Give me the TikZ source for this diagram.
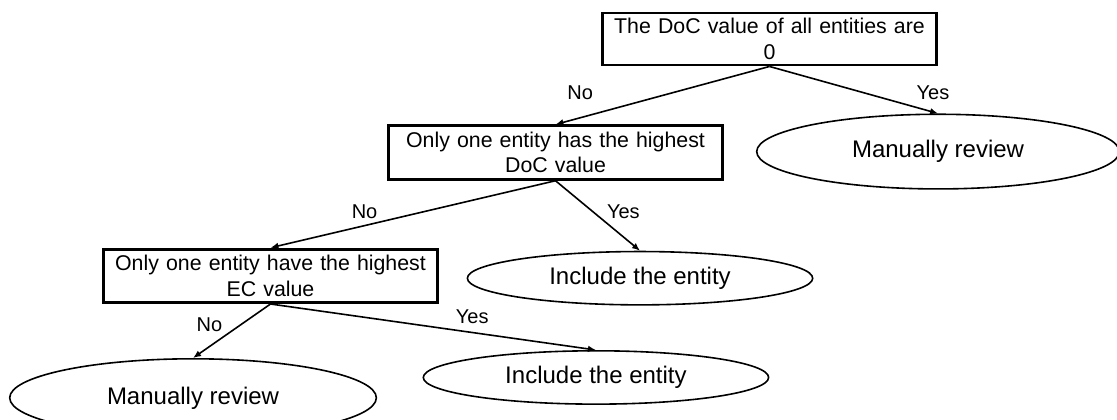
\documentclass[tikz,border=0pt]{standalone}
\usepackage{fontspec}
\setmainfont{Liberation Sans}
\usepackage{tikz}
\usetikzlibrary{arrows.meta, positioning, shapes.geometric}

\begin{document}
\begin{tikzpicture}[
  x=0.75pt, y=-0.75pt,
  block/.style = {draw, line width=2.2pt, text width=240pt, minimum height=40pt, inner xsep=5pt, inner ysep=2pt, align=center, font=\fontsize{16}{19}\selectfont},
  leaf/.style = {draw, ellipse, line width=1.2pt, inner sep=0pt, font=\fontsize{18}{21}\selectfont},
  arrow/.style = {line width=1.2pt, -{Latex[length=6pt, width=5pt]}},
  lbl/.style = {inner sep=0pt, font=\fontsize{15}{17}\selectfont}
]
  \useasboundingbox (0,0) rectangle (1117,420);

  % Root question
  \node[block, minimum height=39pt] (doc_zero) at (769.5,39) {The DoC value of all entities are\\0};

  % Second level
  \node[block, below=43.5pt of doc_zero, xshift=-160.5pt] (doc_high) {Only one entity has the highest\\DoC value};
  \node[leaf, minimum width=272pt, minimum height=56pt, below=35.25pt of doc_zero, xshift=126.4pt] (review_a) {Manually review};

  % Third level
  \node[block, below=50.25pt of doc_high, xshift=-213.75pt] (ec_high) {Only one entity have the highest\\EC value};
  \node[leaf, minimum width=259pt, minimum height=40pt, below=52.5pt of doc_high, xshift=63.4pt] (incl_a) {Include the entity};

  % Leaves of the last question
  \node[leaf, minimum width=275pt, minimum height=58.5pt, below=40.5pt of ec_high, xshift=-58.1pt] (review_b) {Manually review};
  \node[leaf, minimum width=259pt, minimum height=40pt, below=34.5pt of ec_high, xshift=244.1pt] (incl_b) {Include the entity};

  % Decisions
  \draw[arrow] (doc_zero.south) -- (doc_high.north) node[lbl, pos=0.885, above=13pt] (no_a) {No};
  \draw[arrow] (doc_zero.south) -- (review_a.north) node[lbl, pos=0.97, above=9pt] (yes_a) {Yes};
  \draw[arrow] (doc_high.south) -- (ec_high.north) node[lbl, pos=0.67, above=4.5pt] (no_b) {No};
  \draw[arrow] (doc_high.south) -- (incl_a.north) node[lbl, pos=0.443, right=10pt] (yes_b) {Yes};
  \draw[arrow] (ec_high.south) -- (review_b.north) node[lbl, pos=0.39, left=13pt] (no_c) {No};
  \draw[arrow] (ec_high.south) -- (incl_b.north) node[lbl, pos=0.62, above=6pt] (yes_c) {Yes};

\end{tikzpicture}
\end{document}
